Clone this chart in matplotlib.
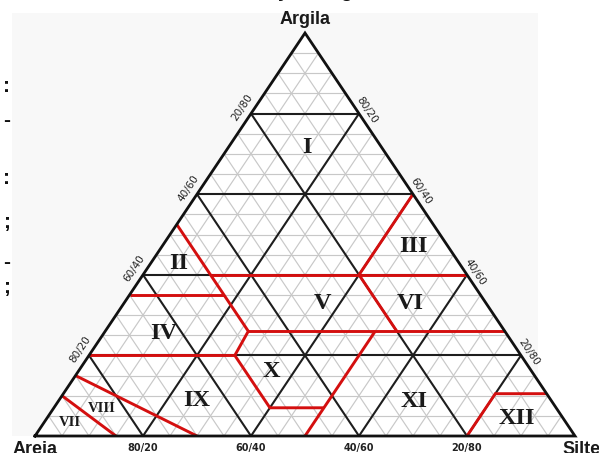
import numpy as np
import matplotlib
matplotlib.use('Agg')
import matplotlib.pyplot as plt
from matplotlib.patches import Rectangle, Polygon

W, H = 599, 453

# class boundaries (red), each as clay % / silt % vertices
bound_clay = [
    [40, 60],                    # III / I-II
    [40, 40],                    # clay 40 horizontal
    [35, 35],                    # clay 35 horizontal
    [52.5, 26, 20, 7, 7],        # II-IV / V-X
    [26, 26],                    # clay 26 horizontal
    [20, 20],                    # clay 20 horizontal
    [0, 26],                     # silt 50
    [40, 26],                    # sand 20
    [0, 10.5, 10.5],             # XII
    [10, 0],                     # VII
    [15, 0],                     # VIII
]
bound_silt = [
    [40, 40],
    [12.5, 60],
    [0, 17.5],
    [0, 26.5, 27, 40, 50],
    [26.5, 74],
    [0, 27],
    [50, 50],
    [40, 54],
    [80, 80, 89.5],
    [0, 15],
    [0, 30],
]

# class labels
class_names = ['I', 'II', 'III', 'IV', 'V', 'VI', 'VII', 'VIII', 'IX', 'X', 'XI', 'XII']
class_clay = [71.7, 42.9, 47.0, 25.5, 32.9, 32.9, 3.3, 6.9, 8.9, 16.0, 8.5, 4.4]
class_silt = [14.5, 5.1, 46.6, 11.1, 36.8, 53.0, 4.8, 8.9, 25.5, 35.8, 66.0, 87.0]
class_size = [17.5, 17.5, 17.5, 17.5, 17.5, 17.5, 10.5, 10.5, 17.5, 17.5, 17.5, 17.5]

ticks = [20, 40, 60, 80]


def tern(clay, silt):
    clay = np.asarray(clay, dtype=float)
    silt = np.asarray(silt, dtype=float)
    return silt + clay / 2.0, clay


def px(x, y):
    return x / W, 1 - y / H


fig = plt.figure(figsize=(W / 100, H / 100), dpi=100)
fig.patch.set_facecolor('white')

ax = fig.add_axes([35 / W, (H - 436) / H, 540 / W, 403 / H])
ax.set_xlim(0, 100)
ax.set_ylim(0, 100)
ax.axis('off')

# faint scanned page background
ax.add_patch(Rectangle(px(12, 436), (538 - 12) / W, (436 - 13) / H,
                       transform=fig.transFigure, facecolor='#f8f8f8',
                       edgecolor='none', zorder=-2, clip_on=False))
ax.add_patch(Polygon([[0, 0], [100, 0], [50, 100]], closed=True,
                     facecolor='white', edgecolor='none', zorder=-1))

# fine grid, 5 %
for k in range(5, 100, 5):
    if k % 20 == 0:
        continue
    for c, s in [([k, k], [0, 100 - k]), ([0, 100 - k], [k, k]), ([0, 100 - k], [100 - k, 0])]:
        ax.plot(*tern(c, s), color='#c8c8c8', lw=0.85, zorder=1, solid_capstyle='butt')

# main grid, 20 %
for k in ticks:
    for c, s in [([k, k], [0, 100 - k]), ([0, 100 - k], [k, k]), ([0, 100 - k], [100 - k, 0])]:
        ax.plot(*tern(c, s), color='#1e1e1e', lw=1.5, zorder=2, solid_capstyle='butt')

# class boundaries
for c, s in zip(bound_clay, bound_silt):
    ax.plot(*tern(c, s), color='#d40f0f', lw=2.1, zorder=3, solid_capstyle='butt',
            solid_joinstyle='miter')

# outline
ax.plot(*tern([0, 0, 100, 0], [0, 100, 0, 0]), color='#111111', lw=2.0, zorder=4,
        solid_joinstyle='miter', clip_on=False)

for name, c, s, fs in zip(class_names, class_clay, class_silt, class_size):
    x, y = tern(c, s)
    ax.text(x, y, name, ha='center', va='center', fontsize=fs, fontweight='bold',
            family='Liberation Serif', color='#1a1a1a', zorder=5)

# edge labels
p0 = ax.transData.transform([[0, 0], [50, 100]])
ang = np.degrees(np.arctan2(p0[1, 1] - p0[0, 1], p0[1, 0] - p0[0, 0]))
for k in ticks:
    x, y = tern(k, 0)
    ax.annotate('{}/{}'.format(100 - k, k), (x, y), xytext=(-9, 6), textcoords='offset pixels',
                ha='center', va='center', rotation=ang, rotation_mode='anchor',
                fontsize=7.5, color='#222222', annotation_clip=False)
    x, y = tern(k, 100 - k)
    ax.annotate('{}/{}'.format(k, 100 - k), (x, y), xytext=(8, 3), textcoords='offset pixels',
                ha='center', va='center', rotation=-ang, rotation_mode='anchor',
                fontsize=7.5, color='#222222', annotation_clip=False)
    x, y = tern(0, k)
    ax.annotate('{}/{}'.format(100 - k, k), (x, y), xytext=(0, -12), textcoords='offset pixels',
                ha='center', va='center', fontsize=7, fontweight='bold',
                color='#222222', annotation_clip=False)

# vertex names
ax.annotate('Argila', tern(100, 0), xytext=(0, 13), textcoords='offset pixels',
            ha='center', va='center', fontsize=13, fontweight='bold',
            family='Liberation Sans', color='#1a1a1a', annotation_clip=False)
ax.annotate('Areia', tern(0, 0), xytext=(-22, -5), textcoords='offset pixels',
            ha='left', va='top', fontsize=13, fontweight='bold',
            family='Liberation Sans', color='#1a1a1a', annotation_clip=False)
ax.annotate('Silte', tern(0, 100), xytext=(-13, -5), textcoords='offset pixels',
            ha='left', va='top', fontsize=13, fontweight='bold',
            family='Liberation Sans', color='#1a1a1a', annotation_clip=False)

# cut-off page text at the left margin and top
for ch, yy in [(':', 86), ('-', 121), (':', 179), (';', 222), ('-', 262), (';', 288)]:
    fig.text(*px(10, yy), ch, ha='right', va='center', fontsize=15, fontweight='bold',
             family='Liberation Sans', color='#111111')
for ch, xx in [('y', 283), ('g', 346)]:
    fig.text(*px(xx, -3), ch, ha='center', va='baseline', fontsize=14, fontweight='bold',
             family='Liberation Sans', color='#111111')

fig.savefig('out.png', dpi=100)
